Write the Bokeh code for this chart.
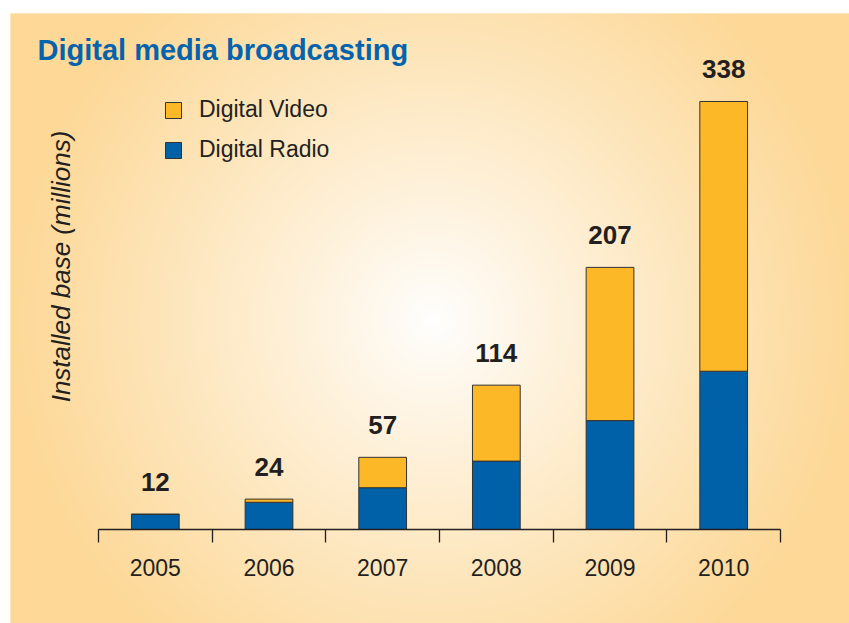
import numpy as np
from bokeh.plotting import figure
from bokeh.models import (Range1d, LinearAxis, FixedTicker, ColumnDataSource,
                          Legend, LegendItem, Label)
from bokeh.core.properties import value
from bokeh.embed import file_html
from bokeh.resources import INLINE

# ---------------- data ----------------
years = ["2005", "2006", "2007", "2008", "2009", "2010"]
radio = [12, 21.5, 33, 54, 86, 125]
video = [0, 2.5, 24, 60, 121, 213]
totals = [12, 24, 57, 114, 207, 338]
series_names = ["Digital Video", "Digital Radio"]
title_text = "Digital media broadcasting"
y_label_text = "Installed base (millions)"

# ---------------- style ----------------
BLUE = "#0061a9"
YELLOW = "#fcb827"
TITLE_BLUE = "#0463ad"
DARK = "#231f20"
EDGE = (253, 216, 150)
FONT = "Liberation Sans"

W, H = 849, 623
ML, MT = 10, 13
FW, FH = W - ML, H - MT          # frame size
AX_X0, UNIT_X = 88.0, 113.67      # frame-px of x=0, px per category
AX_Y0, UNIT_Y = 516.0, 1.2663     # frame-px (from top) of y=0, px per unit

x0 = -AX_X0 / UNIT_X
x1 = (FW - AX_X0) / UNIT_X
y1 = AX_Y0 / UNIT_Y
y0 = -(FH - AX_Y0) / UNIT_Y

xs = [i + 0.5 for i in range(len(years))]
src = ColumnDataSource(dict(x=xs, radio=radio, video=video, total=totals,
                            label=[str(t) for t in totals]))

p = figure(width=W, height=H, x_range=Range1d(x0, x1), y_range=Range1d(y0, y1),
           output_backend="svg", toolbar_location=None,
           x_axis_location=None, y_axis_location=None,
           min_border_left=ML, min_border_top=MT, min_border_right=0,
           min_border_bottom=0, border_fill_color="white",
           outline_line_color=None, background_fill_color="#fdd896")
p.xgrid.visible = False
p.ygrid.visible = False

# radial gradient background
s = 2
gw, gh = FW // s, FH // s
cx, cy = 422.0, 307.0  # frame px, from top
cols = (np.arange(gw) + 0.5) * s
rows_from_top = FH - (np.arange(gh) + 0.5) * s   # row 0 = bottom
XX, YY = np.meshgrid(cols, rows_from_top)
d = np.sqrt((XX - cx) ** 2 + (YY - cy) ** 2)
t = np.clip(d / 430.0, 0, 1) ** 0.9
img = np.empty((gh, gw), dtype=np.uint32)
view = img.view(dtype=np.uint8).reshape((gh, gw, 4))
view[..., 0] = (255 * (1 - t) + EDGE[0] * t).astype(np.uint8)
view[..., 1] = (255 * (1 - t) + EDGE[1] * t).astype(np.uint8)
view[..., 2] = (255 * (1 - t) + EDGE[2] * t).astype(np.uint8)
view[..., 3] = 255
p.image_rgba(image=[img], x=x0, y=y0, dw=x1 - x0, dh=y1 - y0)

# bars
rs = p.vbar_stack(["radio", "video"], x="x", width=0.42, color=[BLUE, YELLOW],
                  line_color="#333333", line_width=1, source=src)

# totals
p.text(x="x", y="total", text="label", source=src, text_align="center",
       text_baseline="alphabetic", y_offset=-32, text_font=value(FONT),
       text_font_style="bold", text_font_size="26px", text_color=DARK)

# x axis
ticker = FixedTicker(ticks=xs, minor_ticks=list(range(len(years) + 1)))
xaxis = LinearAxis(ticker=ticker, fixed_location=0, bounds=(0, len(years)))
xaxis.major_label_overrides = {x: y for x, y in zip(xs, years)}
xaxis.axis_line_color = DARK
xaxis.axis_line_width = 1.3
xaxis.major_tick_out = 0
xaxis.major_tick_in = 0
xaxis.major_tick_line_color = None
xaxis.minor_tick_out = 13
xaxis.minor_tick_in = 0
xaxis.minor_tick_line_color = DARK
xaxis.minor_tick_line_width = 1.3
xaxis.major_label_text_font = FONT
xaxis.major_label_text_font_size = "23px"
xaxis.major_label_text_color = DARK
xaxis.major_label_standoff = 16
p.add_layout(xaxis, "below")

# legend
legend = Legend(items=[LegendItem(label=series_names[0], renderers=[rs[1]]),
                       LegendItem(label=series_names[1], renderers=[rs[0]])],
                location=(153, FH - 150), orientation="vertical",
                glyph_width=20, glyph_height=20, label_height=19,
                label_standoff=16, spacing=13, padding=0, margin=0,
                border_line_color=None, background_fill_alpha=0,
                label_text_font=FONT, label_text_font_size="23px",
                label_text_color=DARK)
p.add_layout(legend)

# title & y label
p.add_layout(Label(x=27, y=FH - 36, x_units="screen", y_units="screen",
                   text=title_text, text_font=FONT, text_font_size="29px",
                   text_font_style="bold", text_color=TITLE_BLUE,
                   text_baseline="alphabetic"))
p.add_layout(Label(x=50, y=FH - 253, x_units="screen", y_units="screen",
                   text=y_label_text, angle=np.pi / 2, text_align="center",
                   text_baseline="alphabetic", text_font=FONT,
                   text_font_size="26px", text_font_style="italic",
                   text_color=DARK))

open("out.html", "w").write(file_html(p, INLINE))
